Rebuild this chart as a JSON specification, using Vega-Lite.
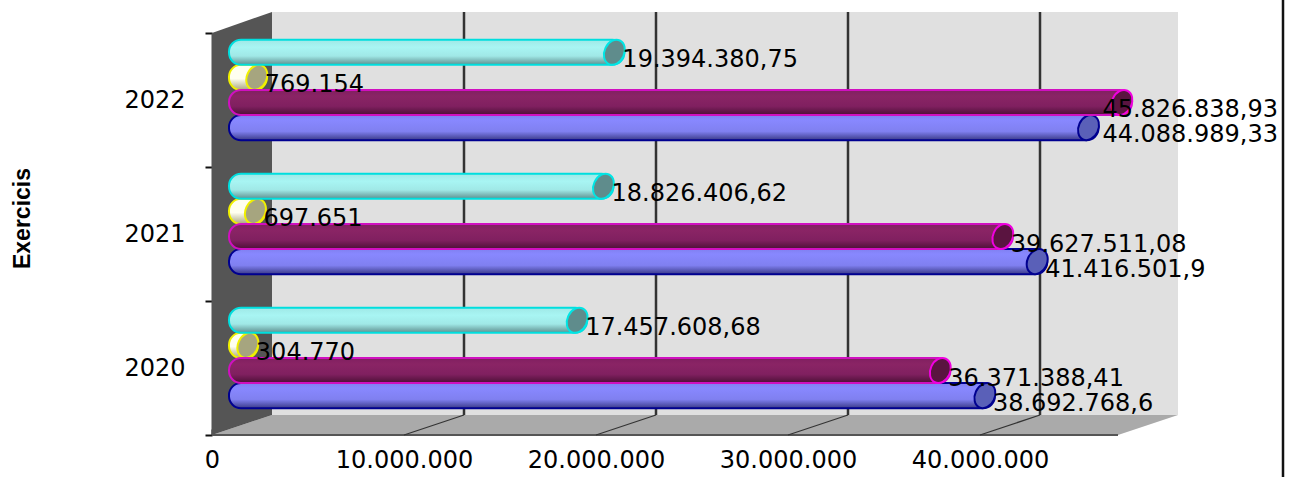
{"$schema":"https://vega.github.io/schema/vega-lite/v6.json","width":966,"height":402,"autosize":"none","padding":{"left":212,"top":33,"right":114,"bottom":42},"background":"white","view":{"stroke":null},
"datasets":{
"vals":[
{"year":"2022","serie":"Serie 1","value":19394380.75,"label":"19.394.380,75"},
{"year":"2022","serie":"Serie 2","value":769154,"label":"769.154"},
{"year":"2022","serie":"Serie 3","value":45826838.93,"label":"45.826.838,93"},
{"year":"2022","serie":"Serie 4","value":44088989.33,"label":"44.088.989,33"},
{"year":"2021","serie":"Serie 1","value":18826406.62,"label":"18.826.406,62"},
{"year":"2021","serie":"Serie 2","value":697651,"label":"697.651"},
{"year":"2021","serie":"Serie 3","value":39627511.08,"label":"39.627.511,08"},
{"year":"2021","serie":"Serie 4","value":41416501.9,"label":"41.416.501,9"},
{"year":"2020","serie":"Serie 1","value":17457608.68,"label":"17.457.608,68"},
{"year":"2020","serie":"Serie 2","value":304770,"label":"304.770"},
{"year":"2020","serie":"Serie 3","value":36371388.41,"label":"36.371.388,41"},
{"year":"2020","serie":"Serie 4","value":38692768.6,"label":"38.692.768,6"}],
"leftWall":[{"v":0,"top":402,"bottom":0},{"v":3125000,"top":423,"bottom":20}],
"backWall":[{"v":3125000,"top":423,"bottom":20},{"v":50312500,"top":423,"bottom":20}],
"floor":[{"v":0,"top":0,"bottom":0},{"v":3125000,"top":20,"bottom":0},{"v":47187500,"top":20,"bottom":0},{"v":50312500,"top":20,"bottom":20}],
"frontEdge":[{"v":0,"d":0},{"v":47187500,"d":0}],
"grid":[{"k":"10M","v":10000000,"d":0},{"k":"10M","v":13125000,"d":20},{"k":"20M","v":20000000,"d":0},{"k":"20M","v":23125000,"d":20},{"k":"30M","v":30000000,"d":0},{"k":"30M","v":33125000,"d":20},{"k":"40M","v":40000000,"d":0},{"k":"40M","v":43125000,"d":20}],
"gridV":[{"v":13125000,"top":423,"bottom":20},{"v":23125000,"top":423,"bottom":20},{"v":33125000,"top":423,"bottom":20},{"v":43125000,"top":423,"bottom":20}]
},
"resolve":{"scale":{"y":"independent"}},
"encoding":{"x":{"type":"quantitative","title":null,"scale":{"domain":[0,50312500],"nice":false,"zero":false},"axis":{"values":[0,10000000,20000000,30000000,40000000],"grid":false,"domain":false,"ticks":true,"tickColor":"#111111","tickWidth":2,"tickSize":-6,"labelExpr":"replace(format(datum.value,','),regexp(',','g'),'.')","labelFont":"DejaVu Sans","labelFontSize":24,"labelColor":"#000000","labelPadding":19,"labelFlush":false,"labelOverlap":false}}},
"layer":[
{"encoding":{"y":{"type":"quantitative","scale":{"domain":[0,402],"nice":false},"axis":null}},
"layer":[
{"data":{"name":"backWall"},"mark":{"type":"area","color":"#e0e0e0","orient":"vertical","clip":false},"encoding":{"x":{"field":"v"},"y":{"field":"top"},"y2":{"field":"bottom"}}},
{"data":{"name":"floor"},"mark":{"type":"area","color":"#aaaaaa","orient":"vertical","clip":false},"encoding":{"x":{"field":"v"},"y":{"field":"top"},"y2":{"field":"bottom"}}},
{"data":{"name":"leftWall"},"mark":{"type":"area","color":"#555555","orient":"vertical","clip":false},"encoding":{"x":{"field":"v"},"y":{"field":"top"},"y2":{"field":"bottom"}}},
{"data":{"name":"frontEdge"},"mark":{"type":"line","color":"#555555","strokeWidth":2,"clip":false},"encoding":{"x":{"field":"v"},"y":{"field":"d"}}},
{"data":{"name":"grid"},"mark":{"type":"line","color":"#333333","strokeWidth":1.2,"clip":false},"encoding":{"x":{"field":"v"},"y":{"field":"d"},"detail":{"field":"k"}}},
{"data":{"name":"gridV"},"mark":{"type":"rule","color":"#333333","strokeWidth":2.5,"clip":false},"encoding":{"x":{"field":"v"},"y":{"field":"top"},"y2":{"field":"bottom"}}},
{"data":{"values":[{"edge":"image border"}]},"mark":{"type":"rule","color":"#111111","strokeWidth":2.5,"clip":false},"encoding":{"x":{"datum":55781250},"y":{"datum":435},"y2":{"datum":-42}}}
]},
{"data":{"name":"vals"},
"encoding":{
"x":{"field":"value"},
"y":{"field":"year","type":"nominal","sort":["2022","2021","2020"],"scale":{"domain":["2022","2021","2020"],"paddingInner":0,"paddingOuter":0},"axis":{"title":"Exercicis","titleFont":"Liberation Sans","titleFontWeight":"bold","titleFontSize":23,"titleColor":"#000000","titleX":-178,"titleY":185,"titleAngle":-90,"labelFont":"DejaVu Sans","labelFontSize":24,"labelColor":"#000000","labelPadding":20,"labelAngle":0,"domain":true,"domainColor":"#555555","domainWidth":2,"ticks":true,"tickBand":"extent","tickColor":"#111111","tickWidth":2,"tickSize":7,"grid":false}},
"yOffset":{"field":"serie","type":"nominal","scale":{"domain":["Serie 1","Serie 2","Serie 3","Serie 4"],"paddingInner":0,"paddingOuter":0.667,"align":0.2}}},
"layer":[
{"transform":[{"filter":"datum.serie==='Serie 4'"}],"mark":{"type":"bar","xOffset":40,"x2Offset":17,"cornerRadius":12,"stroke":"#000090","strokeWidth":2,"fill":{"gradient":"linear","x1":0,"y1":0,"x2":0,"y2":1,"stops":[{"offset":0,"color":"#8080f0"},{"offset":0.2,"color":"#8888ff"},{"offset":0.65,"color":"#8080f0"},{"offset":1,"color":"#3a3a88"}]}},"encoding":{"x2":{"datum":0}}},
{"transform":[{"filter":"datum.serie==='Serie 4'"}],"mark":{"type":"point","shape":"M -0.38 0 A 0.38 0.5 0 1 1 0.38 0 A 0.38 0.5 0 1 1 -0.38 0 Z","size":2700,"angle":25,"filled":true,"opacity":1,"xOffset":30,"fill":"#5a60b8","stroke":"#000090","strokeWidth":2}},
{"transform":[{"filter":"datum.serie==='Serie 2'"}],"mark":{"type":"bar","xOffset":40,"x2Offset":17,"cornerRadius":12,"stroke":"#f0f000","strokeWidth":2,"fill":{"gradient":"linear","x1":0,"y1":0,"x2":0,"y2":1,"stops":[{"offset":0,"color":"#fffff0"},{"offset":0.55,"color":"#fffff0"},{"offset":1,"color":"#a9a680"}]}},"encoding":{"x2":{"datum":0}}},
{"transform":[{"filter":"datum.serie==='Serie 2'"}],"mark":{"type":"point","shape":"M -0.38 0 A 0.38 0.5 0 1 1 0.38 0 A 0.38 0.5 0 1 1 -0.38 0 Z","size":2700,"angle":25,"filled":true,"opacity":1,"xOffset":30,"fill":"#a6a57f","stroke":"#f0f000","strokeWidth":2}},
{"transform":[{"filter":"datum.serie==='Serie 3'"}],"mark":{"type":"bar","xOffset":40,"x2Offset":17,"cornerRadius":12,"stroke":"#d010c0","strokeWidth":2,"fill":{"gradient":"linear","x1":0,"y1":0,"x2":0,"y2":1,"stops":[{"offset":0,"color":"#802060"},{"offset":0.25,"color":"#8a2465"},{"offset":0.65,"color":"#802060"},{"offset":1,"color":"#4c1036"}]}},"encoding":{"x2":{"datum":0}}},
{"transform":[{"filter":"datum.serie==='Serie 3'"}],"mark":{"type":"point","shape":"M -0.38 0 A 0.38 0.5 0 1 1 0.38 0 A 0.38 0.5 0 1 1 -0.38 0 Z","size":2700,"angle":25,"filled":true,"opacity":1,"xOffset":30,"fill":"#5a1440","stroke":"#f000e0","strokeWidth":2}},
{"transform":[{"filter":"datum.serie==='Serie 1'"}],"mark":{"type":"bar","xOffset":40,"x2Offset":17,"cornerRadius":12,"stroke":"#00dede","strokeWidth":2,"fill":{"gradient":"linear","x1":0,"y1":0,"x2":0,"y2":1,"stops":[{"offset":0,"color":"#9fe8e6"},{"offset":0.3,"color":"#a8f5f3"},{"offset":0.65,"color":"#a0e8e6"},{"offset":1,"color":"#5f8f8f"}]}},"encoding":{"x2":{"datum":0}}},
{"transform":[{"filter":"datum.serie==='Serie 1'"}],"mark":{"type":"point","shape":"M -0.38 0 A 0.38 0.5 0 1 1 0.38 0 A 0.38 0.5 0 1 1 -0.38 0 Z","size":2700,"angle":25,"filled":true,"opacity":1,"xOffset":30,"fill":"#5f8c8c","stroke":"#00e5e5","strokeWidth":2}},
{"transform":[{"filter":"datum.year!=='2022' || datum.serie==='Serie 1' || datum.serie==='Serie 2'"}],"mark":{"type":"text","align":"left","baseline":"middle","dx":38,"dy":8,"font":"DejaVu Sans","fontSize":24,"color":"#000000"},"encoding":{"text":{"field":"label"}}},
{"transform":[{"filter":"datum.year==='2022' && (datum.serie==='Serie 3' || datum.serie==='Serie 4')"}],"mark":{"type":"text","align":"right","baseline":"middle","dy":7,"font":"DejaVu Sans","fontSize":24,"color":"#000000"},"encoding":{"x":{"datum":55520000},"text":{"field":"label"}}}
]}
]}
